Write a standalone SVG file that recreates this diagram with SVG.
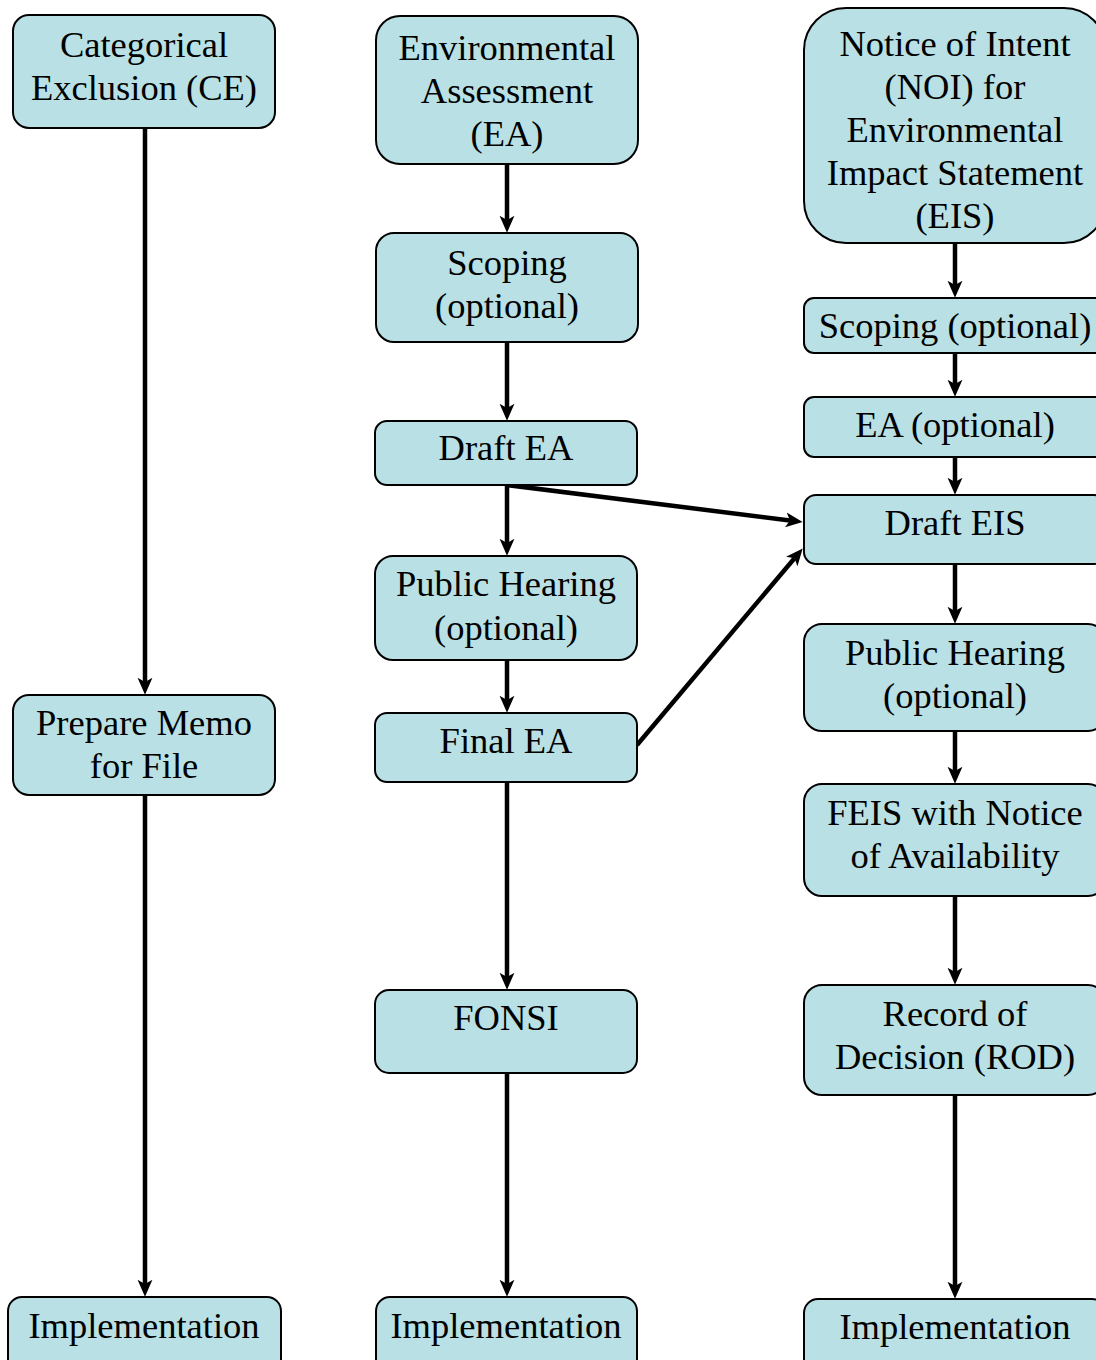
<svg xmlns="http://www.w3.org/2000/svg" width="1096" height="1360" viewBox="0 0 1096 1360">
<defs>
<style>
.box{fill:#b9e0e4;stroke:#000;stroke-width:2}
.t{font-family:"Liberation Serif","Times New Roman",serif;font-size:36.5px;fill:#000;text-anchor:middle}
.c{stroke:#000;stroke-width:4.5;fill:none;marker-end:url(#ah)}
</style>
<marker id="ah" markerUnits="userSpaceOnUse" viewBox="0 0 16 16" markerWidth="17" markerHeight="17" refX="4" refY="8" orient="auto">
<path d="M0,1 L16,8 L0,15 L4,8 Z" fill="#000"/>
</marker>
</defs>
<rect width="1096" height="1360" fill="#fff"/>
<g id="connectors">
<line class="c" x1="145" y1="128" x2="145" y2="682"/>
<line class="c" x1="145" y1="795" x2="145" y2="1284"/>
<line class="c" x1="507" y1="164" x2="507" y2="220"/>
<line class="c" x1="507" y1="342" x2="507" y2="408"/>
<line class="c" x1="507" y1="485" x2="507" y2="543"/>
<line class="c" x1="507" y1="660" x2="507" y2="700"/>
<line class="c" x1="507" y1="782" x2="507" y2="977"/>
<line class="c" x1="507" y1="1073" x2="507" y2="1284"/>
<line class="c" x1="507" y1="485" x2="790" y2="520.5"/>
<line class="c" x1="637" y1="745" x2="794.5" y2="558.2"/>
<line class="c" x1="955" y1="243" x2="955" y2="285"/>
<line class="c" x1="955" y1="353" x2="955" y2="384"/>
<line class="c" x1="955" y1="457" x2="955" y2="482"/>
<line class="c" x1="955" y1="564" x2="955" y2="611"/>
<line class="c" x1="955" y1="731" x2="955" y2="771"/>
<line class="c" x1="955" y1="896" x2="955" y2="972"/>
<line class="c" x1="955" y1="1095" x2="955" y2="1286"/>
</g>
<g id="ce"><rect class="box" x="13" y="15" width="262" height="113" rx="16"/><text class="t" x="144" y="57">Categorical</text><text class="t" x="144" y="100">Exclusion (CE)</text></g>
<g id="memo"><rect class="box" x="13" y="695" width="262" height="100" rx="16"/><text class="t" x="144" y="735">Prepare Memo</text><text class="t" x="144" y="778">for File</text></g>
<g id="impl1"><rect class="box" x="8" y="1297" width="273" height="80" rx="14"/><text class="t" x="144" y="1338">Implementation</text></g>
<g id="ea"><rect class="box" x="376" y="16" width="262" height="148" rx="24"/><text class="t" x="507" y="60">Environmental</text><text class="t" x="507" y="103">Assessment</text><text class="t" x="507" y="146">(EA)</text></g>
<g id="scoping1"><rect class="box" x="376" y="233" width="262" height="109" rx="18"/><text class="t" x="507" y="275">Scoping</text><text class="t" x="507" y="318">(optional)</text></g>
<g id="draftea"><rect class="box" x="375" y="421" width="262" height="64" rx="12"/><text class="t" x="506" y="460">Draft EA</text></g>
<g id="ph1"><rect class="box" x="375" y="556" width="262" height="104" rx="18"/><text class="t" x="506" y="596">Public Hearing</text><text class="t" x="506" y="640">(optional)</text></g>
<g id="finalea"><rect class="box" x="375" y="713" width="262" height="69" rx="12"/><text class="t" x="506" y="753">Final EA</text></g>
<g id="fonsi"><rect class="box" x="375" y="990" width="262" height="83" rx="14"/><text class="t" x="506" y="1030">FONSI</text></g>
<g id="impl2"><rect class="box" x="376" y="1297" width="261" height="80" rx="14"/><text class="t" x="506" y="1338">Implementation</text></g>
<g id="noi"><rect class="box" x="804" y="8" width="302" height="235" rx="42"/><text class="t" x="955" y="56">Notice of Intent</text><text class="t" x="955" y="99">(NOI) for</text><text class="t" x="955" y="142">Environmental</text><text class="t" x="955" y="185">Impact Statement</text><text class="t" x="955" y="228">(EIS)</text></g>
<g id="scoping2"><rect class="box" x="804" y="298" width="302" height="55" rx="10"/><text class="t" x="955" y="338">Scoping (optional)</text></g>
<g id="eaopt"><rect class="box" x="804" y="397" width="302" height="60" rx="10"/><text class="t" x="955" y="437">EA (optional)</text></g>
<g id="drafteis"><rect class="box" x="804" y="495" width="302" height="69" rx="12"/><text class="t" x="955" y="535">Draft EIS</text></g>
<g id="ph2"><rect class="box" x="804" y="624" width="302" height="107" rx="18"/><text class="t" x="955" y="665">Public Hearing</text><text class="t" x="955" y="708">(optional)</text></g>
<g id="feis"><rect class="box" x="804" y="784" width="302" height="112" rx="18"/><text class="t" x="955" y="825">FEIS with Notice</text><text class="t" x="955" y="868">of Availability</text></g>
<g id="rod"><rect class="box" x="804" y="985" width="302" height="110" rx="18"/><text class="t" x="955" y="1026">Record of</text><text class="t" x="955" y="1069">Decision (ROD)</text></g>
<g id="impl3"><rect class="box" x="804" y="1299" width="302" height="80" rx="14"/><text class="t" x="955" y="1339">Implementation</text></g>
</svg>
